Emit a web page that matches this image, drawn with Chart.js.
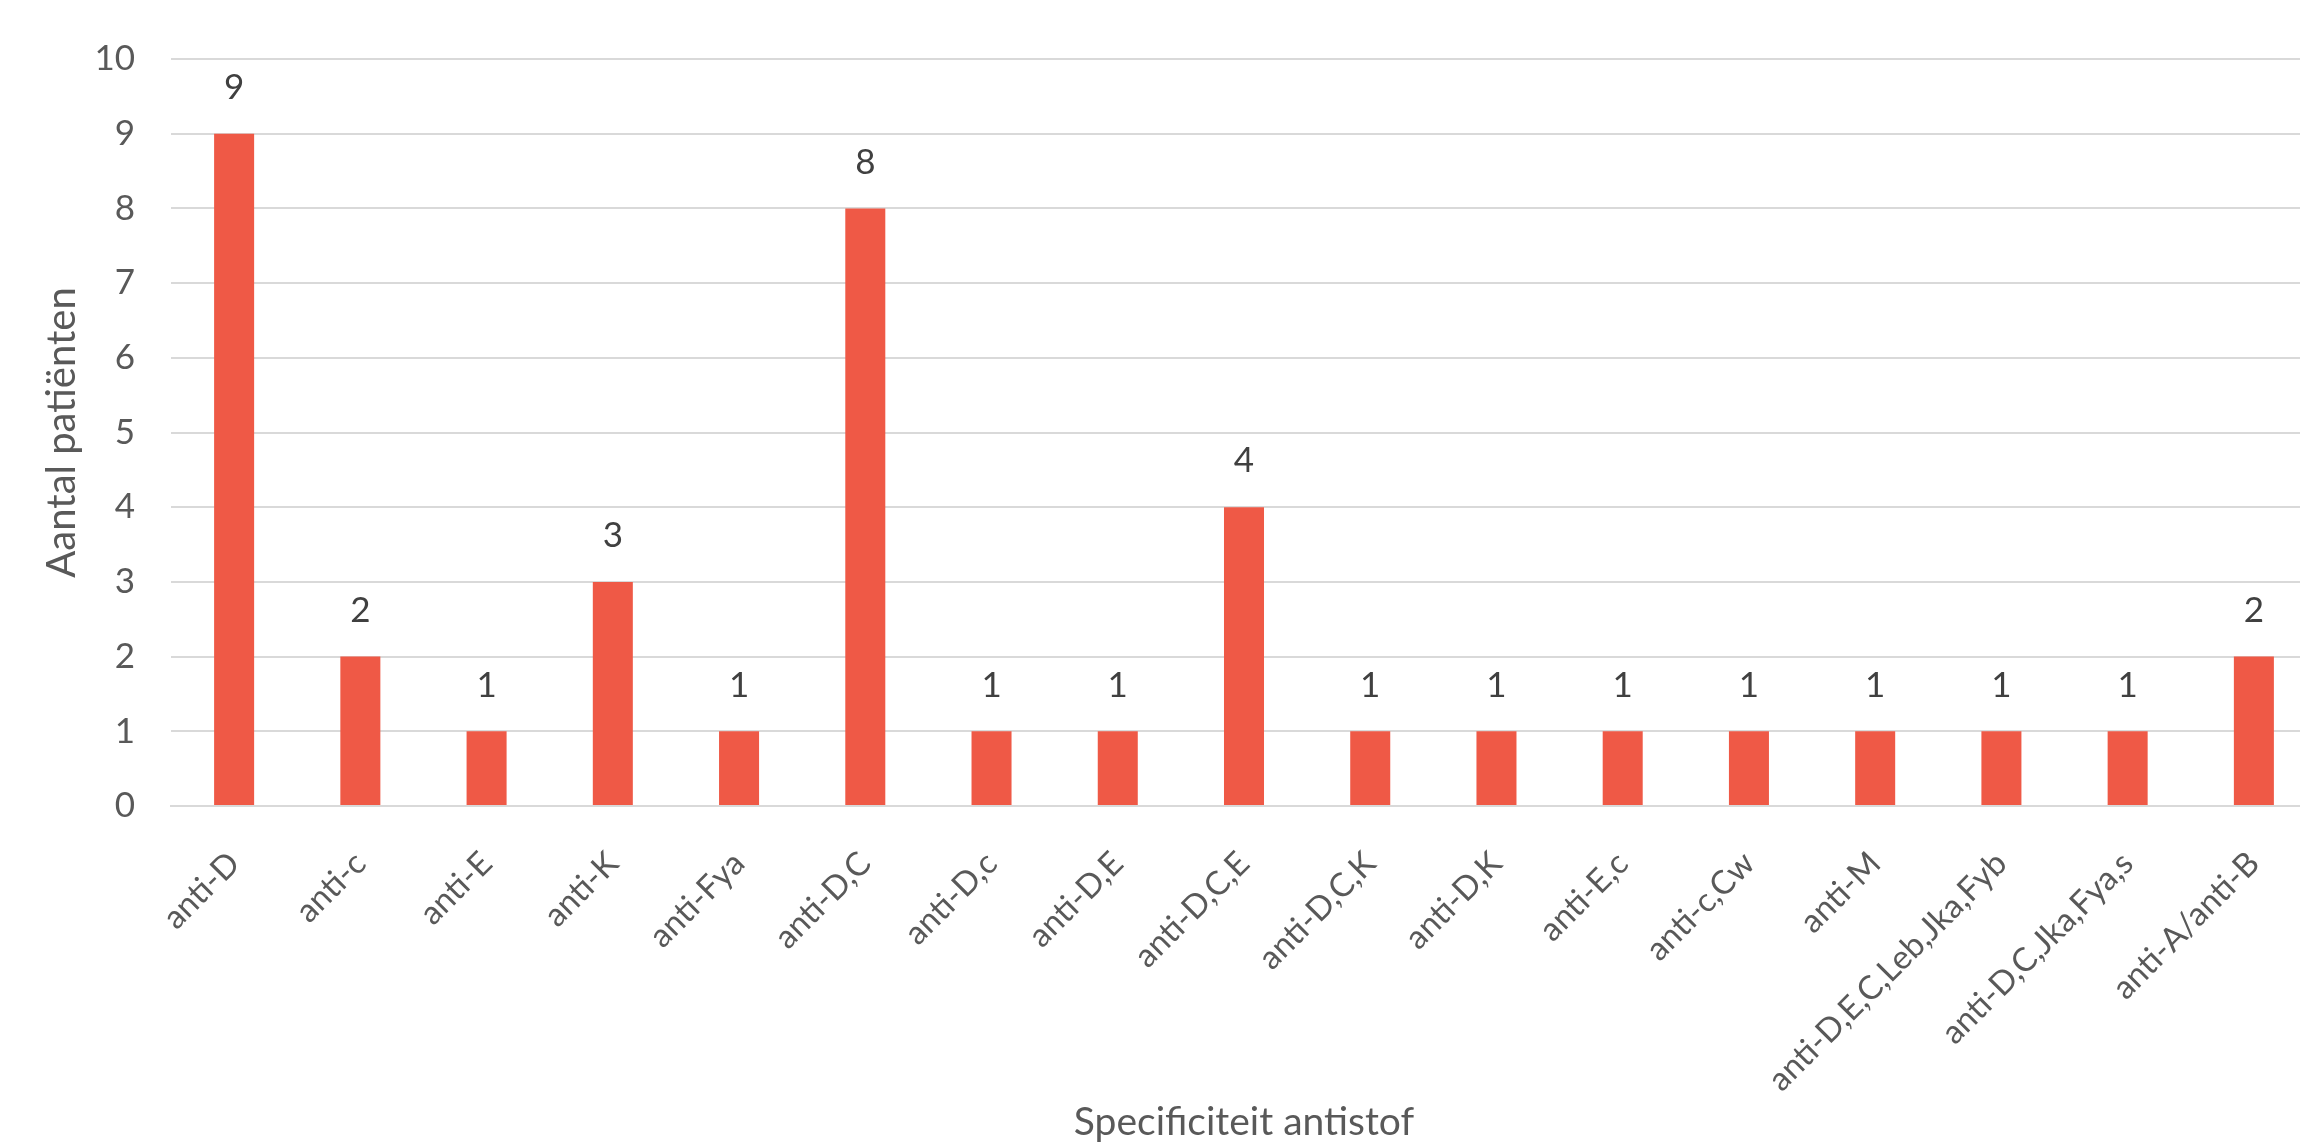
<!DOCTYPE html>
<html>
<head>
<meta charset="utf-8">
<script src="https://cdn.jsdelivr.net/npm/chart.js@4"></script>
<style>
  html, body { margin: 0; padding: 0; background: #fff; overflow: hidden; }
  #wrap { width: 2330px; height: 1146px; }
</style>
</head>
<body>
<div id="wrap"><canvas id="grafico" width="2330" height="1146"></canvas></div>
<script>
var categorie = ["anti-D", "anti-c", "anti-E", "anti-K", "anti-Fya", "anti-D,C", "anti-D,c", "anti-D,E", "anti-D,C,E",
  "anti-D,C,K", "anti-D,K", "anti-E,c", "anti-c,Cw", "anti-M", "anti-D,E,C,Leb,Jka,Fyb", "anti-D,C,Jka,Fya,s", "anti-A/anti-B"];
var aantallen = [9, 2, 1, 3, 1, 8, 1, 1, 4, 1, 1, 1, 1, 1, 1, 1, 2];
var yTicks = [0, 1, 2, 3, 4, 5, 6, 7, 8, 9, 10];

var fontNaam = 'Lato';

// etichette sopra le barre
var etichette = {
  id: 'etichette',
  afterDatasetsDraw: function(chart){
    var ctx = chart.ctx;
    var meta = chart.getDatasetMeta(0);
    ctx.save();
    ctx.font = '35px ' + fontNaam;
    ctx.fillStyle = '#404040';
    ctx.textAlign = 'center';
    ctx.textBaseline = 'middle';
    meta.data.forEach(function(bar, i){
      ctx.fillText(chart.data.datasets[0].data[i], bar.x, bar.y - 46);
    });
    ctx.restore();
  }
};

var chart = new Chart(document.getElementById('grafico'), {
  type: 'bar',
  data: {
    labels: categorie,
    datasets: [{
      data: aantallen,
      backgroundColor: '#EF5946',
      borderWidth: 0,
      barPercentage: 0.317,
      categoryPercentage: 1
    }]
  },
  options: {
    responsive: false,
    animation: false,
    layout: { padding: { top: 59, right: 13, left: 0, bottom: 0 } },
    plugins: {
      legend: { display: false },
      tooltip: { enabled: false }
    },
    scales: {
      x: {
        grid: { display: false, drawTicks: false },
        border: { display: true, color: '#d9d9d9', width: 2 },
        ticks: {
          color: '#595959',
          font: { family: fontNaam, size: 33 },
          minRotation: 45,
          maxRotation: 45,
          padding: 38
        },
        title: {
          display: true,
          text: 'Specificiteit antistof',
          color: '#595959',
          font: { family: fontNaam, size: 39 },
          padding: { top: 0, bottom: 0 }
        },
        afterFit: function(scale){ scale.height = 1146 - 806; }
      },
      y: {
        min: 0,
        max: 10,
        afterBuildTicks: function(scale){
          scale.ticks = yTicks.map(function(v){ return { value: v }; });
        },
        grid: { color: '#d9d9d9', lineWidth: 2, drawTicks: false },
        border: { display: false },
        ticks: {
          color: '#595959',
          font: { family: fontNaam, size: 35 },
          padding: 36
        },
        title: {
          display: true,
          text: 'Aantal patiënten',
          color: '#595959',
          font: { family: fontNaam, size: 40 },
          padding: { top: 38, bottom: 0 }
        },
        afterFit: function(scale){ scale.width = 171; }
      }
    }
  },
  plugins: [etichette]
});
</script>
</body>
</html>
